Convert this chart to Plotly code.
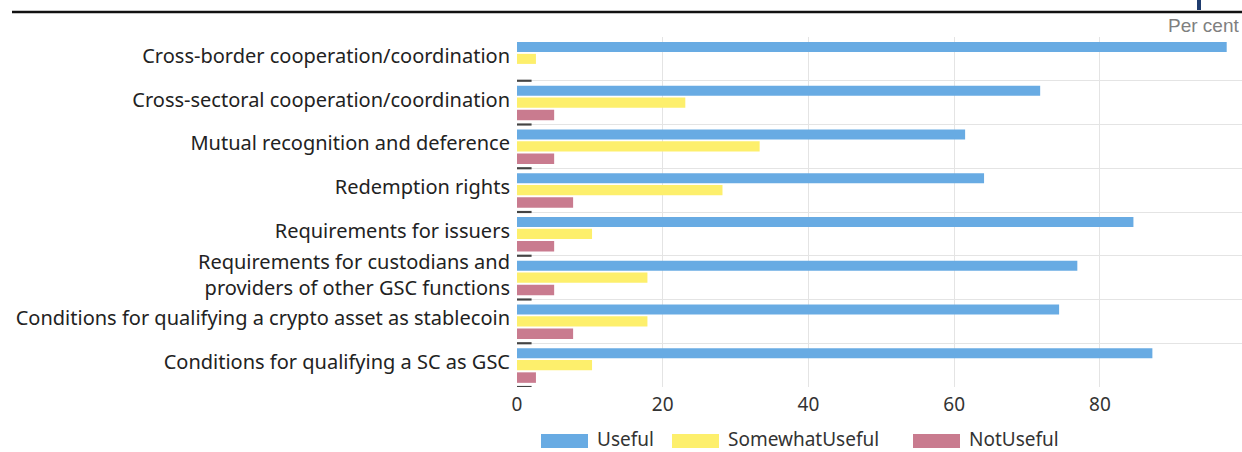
import plotly.graph_objects as go

# Survey answers (per cent of respondents) for each area of the recommendations
categories = [
    "Cross-border cooperation/coordination",
    "Cross-sectoral cooperation/coordination",
    "Mutual recognition and deference",
    "Redemption rights",
    "Requirements for issuers",
    "Requirements for custodians and<br>providers of other GSC functions",
    "Conditions for qualifying a crypto asset as stablecoin",
    "Conditions for qualifying a SC as GSC",
]
useful = [97.4, 71.8, 61.5, 64.1, 84.6, 76.9, 74.4, 87.2]
somewhat_useful = [2.6, 23.1, 33.3, 28.2, 10.3, 17.9, 17.9, 10.3]
not_useful = [0.0, 5.1, 5.1, 7.7, 5.1, 5.1, 7.7, 2.6]
no_answer = [2.0, 2.0, 2.0, 2.0, 2.0, 2.0, 2.0, 2.0]

x_ticks = [0, 20, 40, 60, 80]

BLUE = "#68abe3"
YELLOW = "#fdef6c"
PINK = "#c97b8f"
DARK = "#444444"
GRID = "#e4e4e4"
FONT = "Noto Sans"

W, H = 1242, 452
M_L, M_R, M_T, M_B = 517, 0, 37, 65
PLOT_W = W - M_L - M_R
PLOT_H = H - M_T - M_B


def px_x(px):
    return (px - M_L) / PLOT_W


def px_y(py):
    return (H - M_B - py) / PLOT_H


pos = list(range(len(categories)))

fig = go.Figure()
series = [
    ("Useful", useful, BLUE, -0.385, 0.225),
    ("SomewhatUseful", somewhat_useful, YELLOW, -0.115, 0.23),
    ("NotUseful", not_useful, PINK, 0.165, 0.24),
    ("NoAnswer", no_answer, DARK, 0.475, 0.05),
]
for name, vals, color, off, wid in series:
    fig.add_trace(go.Bar(
        y=pos, x=vals, orientation="h", name=name,
        marker=dict(color=color, line=dict(width=0)),
        offset=off, width=wid, showlegend=False,
    ))

fig.update_layout(
    width=W, height=H,
    margin=dict(l=M_L, r=M_R, t=M_T, b=M_B),
    paper_bgcolor="white", plot_bgcolor="white",
    barmode="overlay",
    font=dict(family=FONT, color="#222222"),
    xaxis=dict(
        range=[0, 99.5], tickvals=x_ticks, showgrid=True, gridcolor=GRID,
        gridwidth=1, zeroline=False, ticks="", showline=False,
        ticklabelstandoff=4,
        tickfont=dict(size=19, color="#333333", family=FONT),
    ),
    yaxis=dict(
        range=[len(categories) - 0.5, -0.5],
        tickvals=[p - 0.07 for p in pos], ticktext=categories,
        showgrid=False, zeroline=False, ticks="", showline=False,
        ticklabelstandoff=6,
        tickfont=dict(size=20, color="#222222", family=FONT),
        minor=dict(tickmode="array", tickvals=[p - 0.5 for p in range(len(categories) + 1)],
                   showgrid=True, gridcolor=GRID, gridwidth=1, ticks=""),
    ),
)

shapes = [
    # header rule and title fragment above the chart
    dict(type="line", xref="paper", yref="paper", x0=px_x(12), x1=px_x(W),
         y0=px_y(12), y1=px_y(12), line=dict(color="#111111", width=2.5)),
    dict(type="line", xref="paper", yref="paper", x0=px_x(1199), x1=px_x(1199),
         y0=px_y(0), y1=px_y(10), line=dict(color="#1f3c6e", width=4)),
]
annotations = [
    dict(text="Per cent", xref="paper", yref="paper", x=px_x(1241), y=px_y(25),
         xanchor="right", yanchor="middle", showarrow=False,
         font=dict(family="Liberation Sans", size=19, color="#7f7f7f")),
]

# legend drawn below the axis with wide swatches
legend_items = [("Useful", BLUE, 541), ("SomewhatUseful", YELLOW, 672), ("NotUseful", PINK, 913)]
for label, color, x0 in legend_items:
    shapes.append(dict(type="rect", xref="paper", yref="paper",
                       x0=px_x(x0), x1=px_x(x0 + 47), y0=px_y(448), y1=px_y(434),
                       fillcolor=color, line=dict(width=0)))
    annotations.append(dict(text=label, xref="paper", yref="paper",
                            x=px_x(x0 + 55), y=px_y(439), xanchor="left", yanchor="middle",
                            showarrow=False, borderpad=0,
                            font=dict(family=FONT, size=19, color="#333333")))

fig.update_layout(shapes=shapes, annotations=annotations)
fig.write_html("out.html")
